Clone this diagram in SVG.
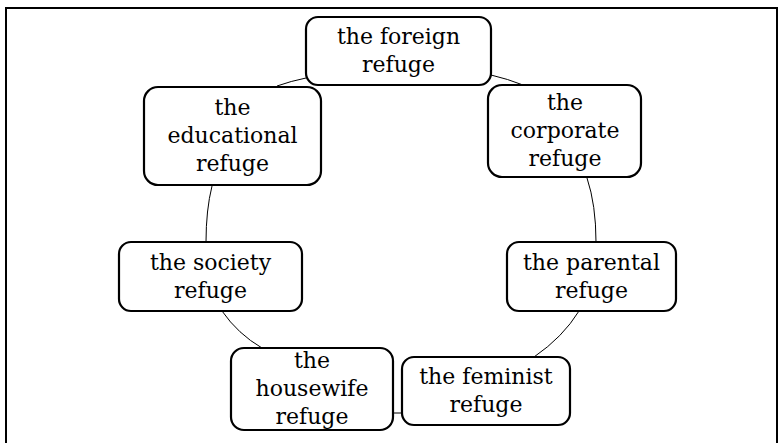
<svg xmlns="http://www.w3.org/2000/svg" width="784" height="443" viewBox="0 0 784 443">
  <style>
    .box { fill: #ffffff; stroke: #000000; stroke-width: 2.2; }
    .lbl { font-family: "DejaVu Serif", "Liberation Serif", serif; font-size: 22px; fill: #000000; text-anchor: middle; }
    .link { fill: none; stroke: #000000; stroke-width: 1; }
    .frame { fill: none; stroke: #000000; stroke-width: 2; }
  </style>
  <rect x="0" y="0" width="784" height="443" fill="#ffffff"/>
  <!-- page frame, open at the bottom -->
  <path class="frame" d="M6,443 L6,8 L777,8 L777,443"/>

  <!-- ring of connectors -->
  <g id="connectors">
    <path class="link" d="M306,78 Q291,81 277,86"/>
    <path class="link" d="M491,75 Q508,79 523,85"/>
    <path class="link" d="M212,186 Q206,210 206,242"/>
    <path class="link" d="M587,178 Q596,205 596,242"/>
    <path class="link" d="M222,311 Q238,334 262,348"/>
    <path class="link" d="M579,311 Q563,337 534,357"/>
    <path class="link" d="M392,413 L403,413"/>
  </g>

  <g id="node-foreign">
    <rect class="box" x="306" y="17" width="185" height="68" rx="12"/>
    <text class="lbl" x="398.5" y="44">the foreign</text>
    <text class="lbl" x="398.5" y="72">refuge</text>
  </g>

  <g id="node-educational">
    <rect class="box" x="144" y="87" width="177" height="98" rx="14"/>
    <text class="lbl" x="232.5" y="115">the</text>
    <text class="lbl" x="232.5" y="143">educational</text>
    <text class="lbl" x="232.5" y="171">refuge</text>
  </g>

  <g id="node-corporate">
    <rect class="box" x="488" y="85" width="153" height="92" rx="14"/>
    <text class="lbl" x="565" y="110">the</text>
    <text class="lbl" x="565" y="138">corporate</text>
    <text class="lbl" x="565" y="166">refuge</text>
  </g>

  <g id="node-society">
    <rect class="box" x="119" y="242" width="183" height="69" rx="12"/>
    <text class="lbl" x="210.5" y="270">the society</text>
    <text class="lbl" x="210.5" y="298">refuge</text>
  </g>

  <g id="node-parental">
    <rect class="box" x="507" y="242" width="169" height="69" rx="12"/>
    <text class="lbl" x="591.5" y="270">the parental</text>
    <text class="lbl" x="591.5" y="298">refuge</text>
  </g>

  <g id="node-housewife">
    <rect class="box" x="231" y="348" width="162" height="82" rx="13"/>
    <text class="lbl" x="312" y="368">the</text>
    <text class="lbl" x="312" y="396">housewife</text>
    <text class="lbl" x="312" y="424">refuge</text>
  </g>

  <g id="node-feminist">
    <rect class="box" x="402" y="357" width="168" height="68" rx="12"/>
    <text class="lbl" x="486" y="384">the feminist</text>
    <text class="lbl" x="486" y="412">refuge</text>
  </g>
</svg>
